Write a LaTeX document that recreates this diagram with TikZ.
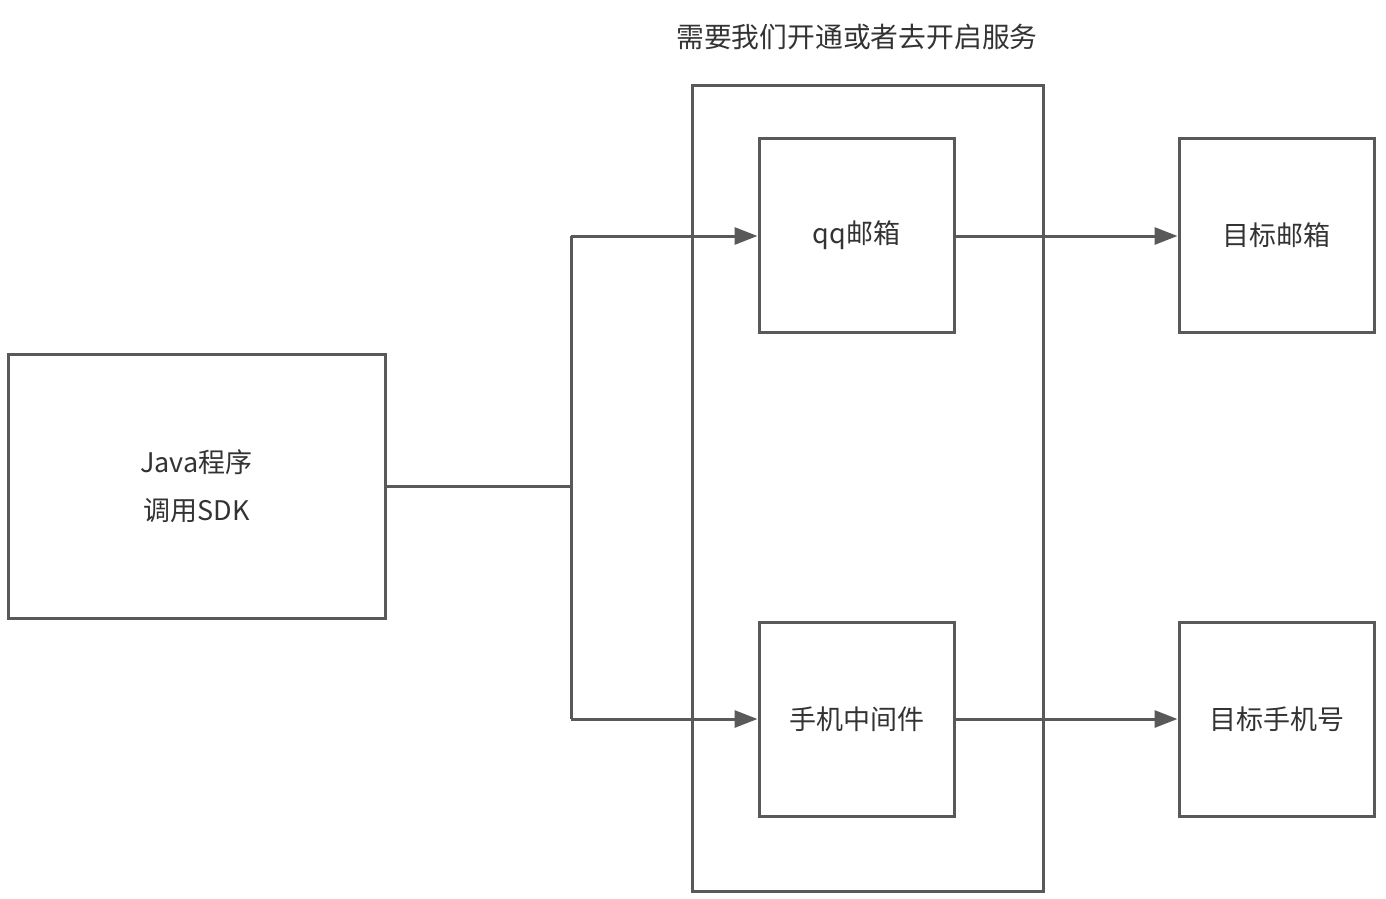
\documentclass[tikz,border=0pt]{standalone}
\usepackage{fontspec}
\setmainfont{Noto Sans CJK SC}
\usetikzlibrary{arrows.meta}
\definecolor{ln}{HTML}{595959}
\definecolor{tx}{HTML}{333333}
\newcommand{\lowered}[1]{\raisebox{-2pt}{#1}}
\begin{document}
\begin{tikzpicture}[x=1pt,y=-1pt,
  box/.style={draw=ln,line width=3pt,minimum width=#1,inner sep=0pt,text=tx,font=\fontsize{27}{48}\selectfont,align=center},
  conn/.style={draw=ln,line width=3pt},
  arr/.style={conn,-{Triangle[length=23pt,width=17pt]}}]
\useasboundingbox (0,0) rectangle (1386,898);
\node[box=351pt,minimum height=806pt] (outer) at (867.5,488) {};
\node[box=377pt,minimum height=264pt] (java) at (196.5,486) {\lowered{Java程序}\\\lowered{调用SDK}};
\node[box=195pt,minimum height=194pt] (qq) at (856.5,235) {\lowered{qq邮箱}};
\node[box=195pt,minimum height=194pt] (mid) at (856.5,719) {\lowered{手机中间件}};
\node[box=195pt,minimum height=194pt] (tmail) at (1276.5,235) {\lowered{目标邮箱}};
\node[box=195pt,minimum height=194pt] (tphone) at (1276.5,719) {\lowered{目标手机号}};
\node[text=tx,font=\fontsize{27.8}{30}\selectfont] (title) at (857,37) {需要我们开通或者去开启服务};
\coordinate (j) at (571,486);
\coordinate (ju) at (571,236);
\coordinate (jd) at (571,719);
\draw[conn] (java.east |- j) -- (j);
\draw[conn] (ju) -- (jd);
\draw[arr] (ju) -- (qq.west |- ju);
\draw[arr] (jd) -- (mid.west |- jd);
\draw[arr] (qq.east |- ju) -- (tmail.west |- ju);
\draw[arr] (mid.east |- jd) -- (tphone.west |- jd);
\end{tikzpicture}
\end{document}
